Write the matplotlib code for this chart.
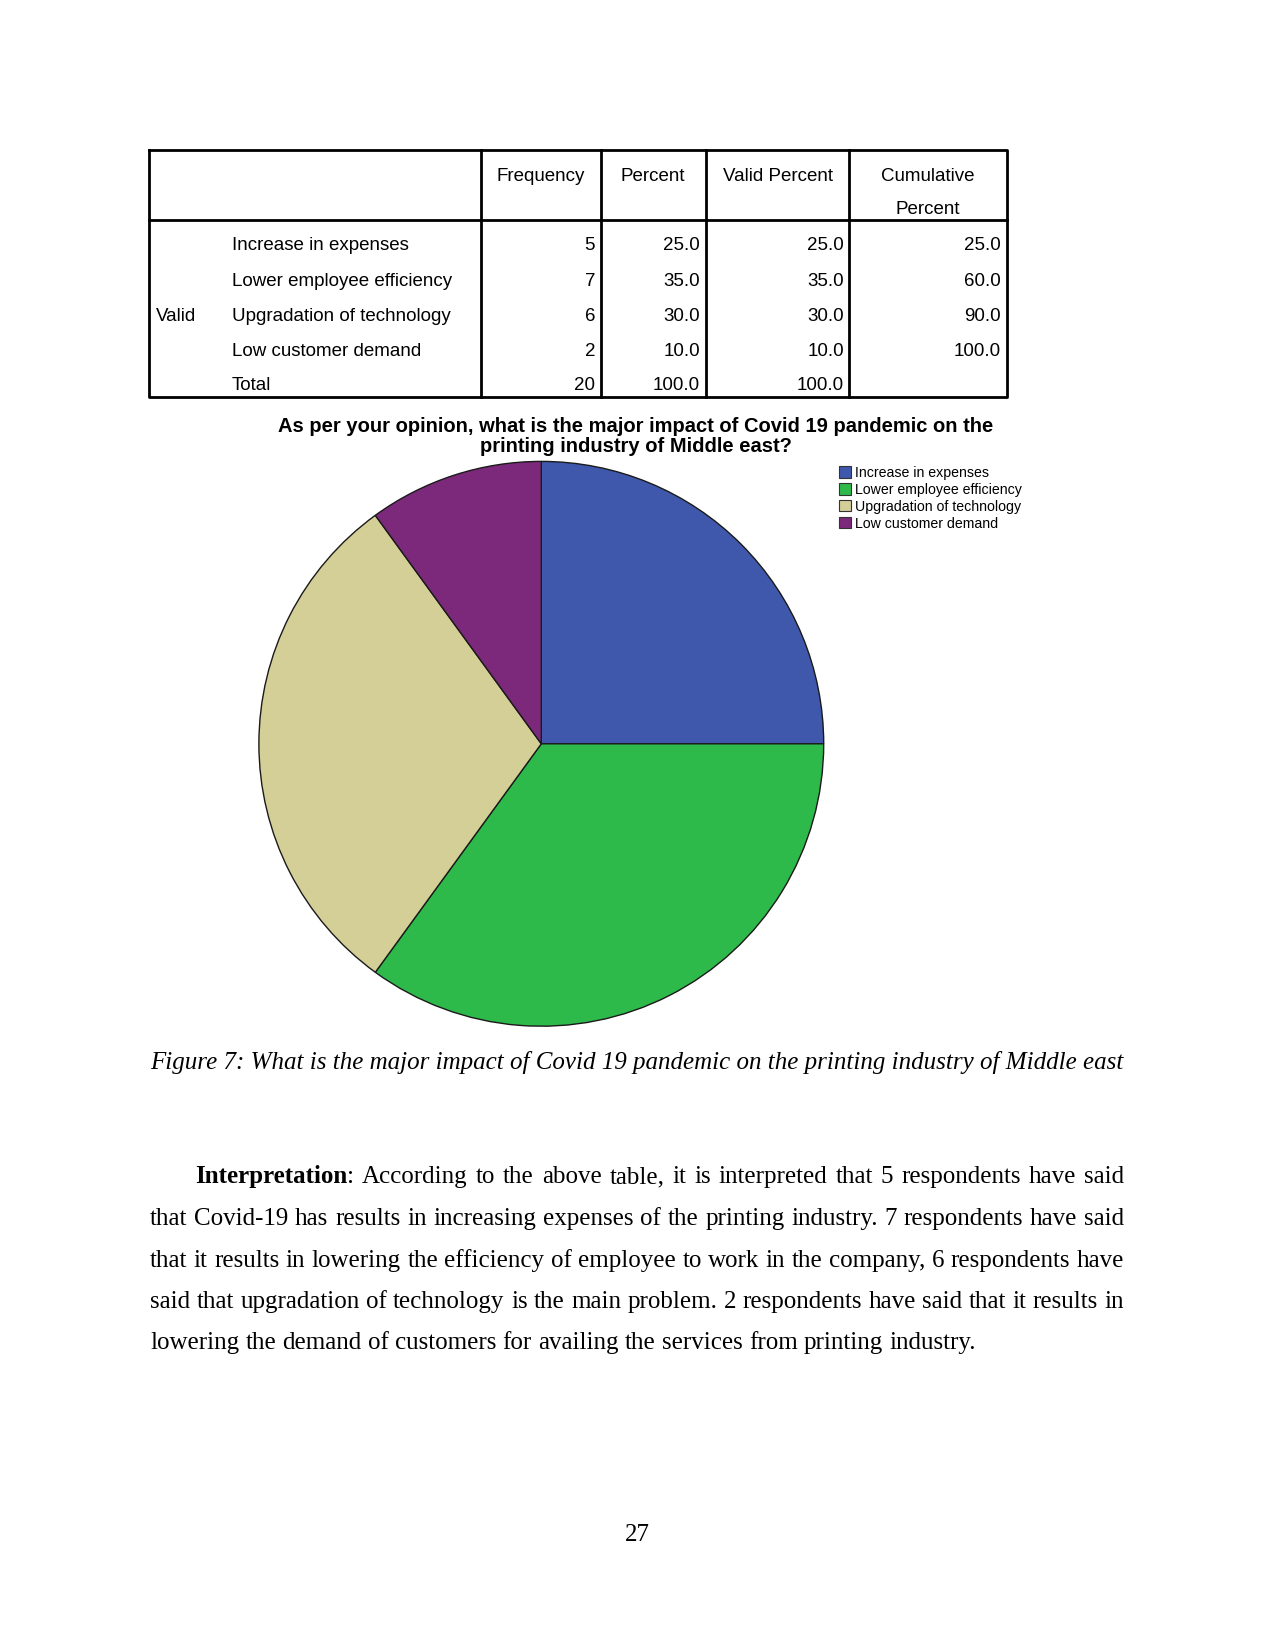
import matplotlib
matplotlib.use("Agg")
import matplotlib.pyplot as plt
from matplotlib.patches import Patch

# ---------------- data ----------------
categories = ["Increase in expenses", "Lower employee efficiency",
              "Upgradation of technology", "Low customer demand"]
frequency = [5, 7, 6, 2]
percent = ["25.0", "35.0", "30.0", "10.0"]
valid_percent = ["25.0", "35.0", "30.0", "10.0"]
cumulative = ["25.0", "60.0", "90.0", "100.0"]
total_freq = "20"
total_pct = "100.0"
colors = ["#3F58AC", "#2EB94B", "#D4CF97", "#7C297B"]

title_lines = ["As per your opinion, what is the major impact of Covid 19 pandemic on the",
               "printing industry of Middle east?"]
caption = "Figure 7: What is the major impact of Covid 19 pandemic on the printing industry of Middle east"
para_lines = [
    "According to the above table, it is interpreted that 5 respondents have said",
    "that Covid-19 has results in increasing expenses of the printing industry. 7 respondents have said",
    "that it results in lowering the efficiency of employee to work in the company, 6 respondents have",
    "said that upgradation of technology is the main problem. 2 respondents have said that it results in",
    "lowering the demand of customers for availing the services from printing industry.",
]

W, H = 1275, 1650
DPI = 100
fig = plt.figure(figsize=(W / DPI, H / DPI), dpi=DPI)
fig.patch.set_facecolor("white")

# overlay axes in pixel coordinates
ov = fig.add_axes([0, 0, 1, 1])
ov.set_xlim(0, W)
ov.set_ylim(H, 0)
ov.axis("off")

SANS = "Liberation Sans"
SERIF = "Liberation Serif"

# ---------------- table ----------------
tl, tr, tt, th, tb = 149, 1007, 150, 220, 397
cols = [481, 601, 706, 849]
lw_tab = 2.0
ov.plot([tl, tr, tr, tl, tl], [tt, tt, tb, tb, tt], color="black", lw=lw_tab)
ov.plot([tl, tr], [th, th], color="black", lw=lw_tab)
for c in cols:
    ov.plot([c, c], [tt, tb], color="black", lw=lw_tab)

fs_tab = 13.5
heads = [("Frequency", 541), ("Percent", 653), ("Valid Percent", 778)]
for txt, x in heads:
    ov.text(x, 176.5, txt, fontsize=fs_tab, family=SANS, ha="center", va="center")
ov.text(928, 176.5, "Cumulative", fontsize=fs_tab, family=SANS, ha="center", va="center")
ov.text(928, 209, "Percent", fontsize=fs_tab, family=SANS, ha="center", va="center")

row_y = [245, 281, 316.5, 351, 386]
labels = categories + ["Total"]
freqs = [str(f) for f in frequency] + [total_freq]
pcts = percent + [total_pct]
vps = valid_percent + [total_pct]
cums = cumulative + [""]
for i, y in enumerate(row_y):
    ov.text(232, y, labels[i], fontsize=fs_tab, family=SANS, ha="left", va="center")
    ov.text(595, y, freqs[i], fontsize=fs_tab, family=SANS, ha="right", va="center")
    ov.text(700, y, pcts[i], fontsize=fs_tab, family=SANS, ha="right", va="center")
    ov.text(844, y, vps[i], fontsize=fs_tab, family=SANS, ha="right", va="center")
    ov.text(1001, y, cums[i], fontsize=fs_tab, family=SANS, ha="right", va="center")
ov.text(156, 316.5, "Valid", fontsize=fs_tab, family=SANS, ha="left", va="center")

# ---------------- chart title ----------------
for ty, line in zip([426, 446], title_lines):
    ov.text(636, ty, line, fontsize=14.5, family=SANS, weight="bold",
            ha="center", va="center")

# ---------------- pie ----------------
cx, cy, r = 541.3, 743.8, 282.4
pax = fig.add_axes([(cx - r) / W, 1 - (cy + r) / H, 2 * r / W, 2 * r / H])
pax.pie(frequency, colors=colors, startangle=90, counterclock=False,
        wedgeprops=dict(edgecolor="#1a1a1a", linewidth=1.0))
pax.set_xlim(-1, 1)
pax.set_ylim(-1, 1)
pax.set_aspect("equal")
pax.axis("off")

handles = [Patch(facecolor=c, edgecolor="#333333", linewidth=0.8) for c in colors]
fig.legend(handles, categories, loc="upper left",
           bbox_to_anchor=(839 / W, 1 - 466 / H), frameon=False,
           prop={"family": SANS, "size": 10.2}, handlelength=0.85,
           handleheight=0.85, handletextpad=0.25, labelspacing=0.2,
           borderpad=0, borderaxespad=0)

# ---------------- caption ----------------
ov.text(150, 1062, caption, fontsize=18, family=SERIF, style="italic",
        ha="left", va="center")

# ---------------- paragraph (justified) ----------------
fs_p = 18
renderer = fig.canvas.get_renderer()


def width_of(s, weight="normal"):
    t = ov.text(0, 0, s, fontsize=fs_p, family=SERIF, weight=weight)
    w = t.get_window_extent(renderer).width
    t.remove()
    return w


left, right = 150, 1124
baselines = [1183, 1225, 1267, 1308, 1349]
for li, line in enumerate(para_lines):
    words = line.split(" ")
    segs = []
    if li == 0:
        segs.append([("Interpretation", "bold"), (":", "normal")])
    for wd in words:
        segs.append([(wd, "normal")])
    widths = [sum(width_of(t, wt) for t, wt in seg) for seg in segs]
    x0 = 195 if li == 0 else left
    justify = li < len(para_lines) - 1
    if justify and len(segs) > 1:
        gap = (right - x0 - sum(widths)) / (len(segs) - 1)
    else:
        gap = width_of("a b") - width_of("ab")
    x = x0
    for seg, w in zip(segs, widths):
        xs = x
        for t, wt in seg:
            ov.text(xs, baselines[li], t, fontsize=fs_p, family=SERIF,
                    weight=wt, ha="left", va="baseline")
            xs += width_of(t, wt)
        x += w + gap

# ---------------- page number ----------------
ov.text(637, 1535, "27", fontsize=18, family=SERIF, ha="center", va="center")

fig.savefig("out.png", dpi=DPI, facecolor="white")
